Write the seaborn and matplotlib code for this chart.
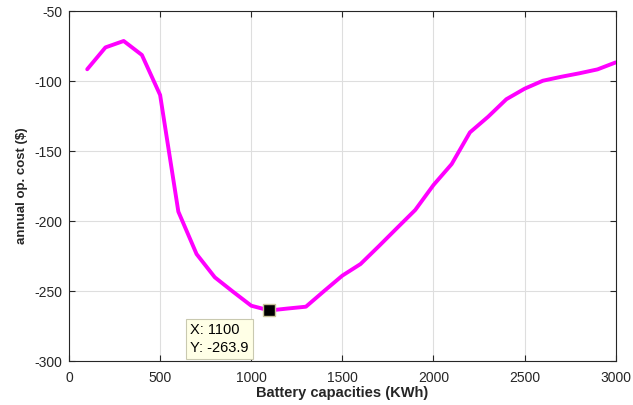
import matplotlib
matplotlib.use("Agg")
import matplotlib.pyplot as plt
import seaborn as sns
import pandas as pd

# battery sizes (KWh) and the annual operating cost
capacity = [100, 200, 300, 400, 500, 600, 700, 800, 900, 1000,
            1100, 1200, 1300, 1400, 1500, 1600, 1700, 1800, 1900, 2000,
            2100, 2200, 2300, 2400, 2500, 2600, 2700, 2800, 2900, 3000]
op_cost = [-91.6, -76.0, -71.4, -81.4, -110.0, -193.3, -223.6, -240.2, -250.5, -260.5,
           -263.9, -262.5, -261.2, -250.0, -239.0, -230.7, -218.0, -205.0, -192.1, -174.3,
           -159.3, -136.7, -125.5, -113.0, -105.5, -99.8, -97.0, -94.5, -91.7, -86.7]

tip_x = 1100
tip_y = -263.9

df = pd.DataFrame({"capacity": capacity, "cost": op_cost})

sns.set_style("ticks")
plt.rcParams['font.family'] = ['Liberation Sans', 'DejaVu Sans']
plt.rcParams['axes.unicode_minus'] = False

fig = plt.figure(figsize=(6.33, 4.05), dpi=100)
ax = fig.add_axes([0.109, 0.1086, 0.8637, 0.8642])

sns.lineplot(data=df, x="capacity", y="cost", ax=ax, color="#FF00FF", linewidth=2.8)

ax.set_xlim(0, 3000)
ax.set_ylim(-300, -50)
ax.set_xticks([0, 500, 1000, 1500, 2000, 2500, 3000])
ax.set_yticks([-300, -250, -200, -150, -100, -50])
ax.grid(True, color="#dedede", linewidth=0.8)
ax.set_axisbelow(True)

for s in ax.spines.values():
    s.set_visible(True)
    s.set_color("#262626")
    s.set_linewidth(0.8)
ax.tick_params(direction="in", length=4.5, width=0.8, color="#262626",
               top=True, right=True, labelsize=10, labelcolor="#262626")
ax.tick_params(axis="x", pad=7)
ax.tick_params(axis="y", pad=5)

ax.set_xlabel("Battery capacities (KWh)", fontsize=10.5, fontweight="bold", color="#262626", labelpad=1)
ax.set_ylabel("annual op. cost ($)", fontsize=9.5, fontweight="bold", color="#262626", labelpad=4)

# data tip
ax.plot(tip_x, tip_y, marker="s", markersize=8.5, color="black",
        markeredgecolor="#c8c39a", markeredgewidth=1, zorder=5)
ax.annotate("X: 1100\nY: -263.9", xy=(tip_x, tip_y), xytext=(-57, -9),
            textcoords="offset points", fontsize=10.5, color="black", va="top", ha="left",
            linespacing=1.35,
            bbox=dict(boxstyle="square,pad=0.3", fc="#ffffe6", ec="#c9c9b0", lw=0.8))

fig.savefig("out.png", dpi=100)
